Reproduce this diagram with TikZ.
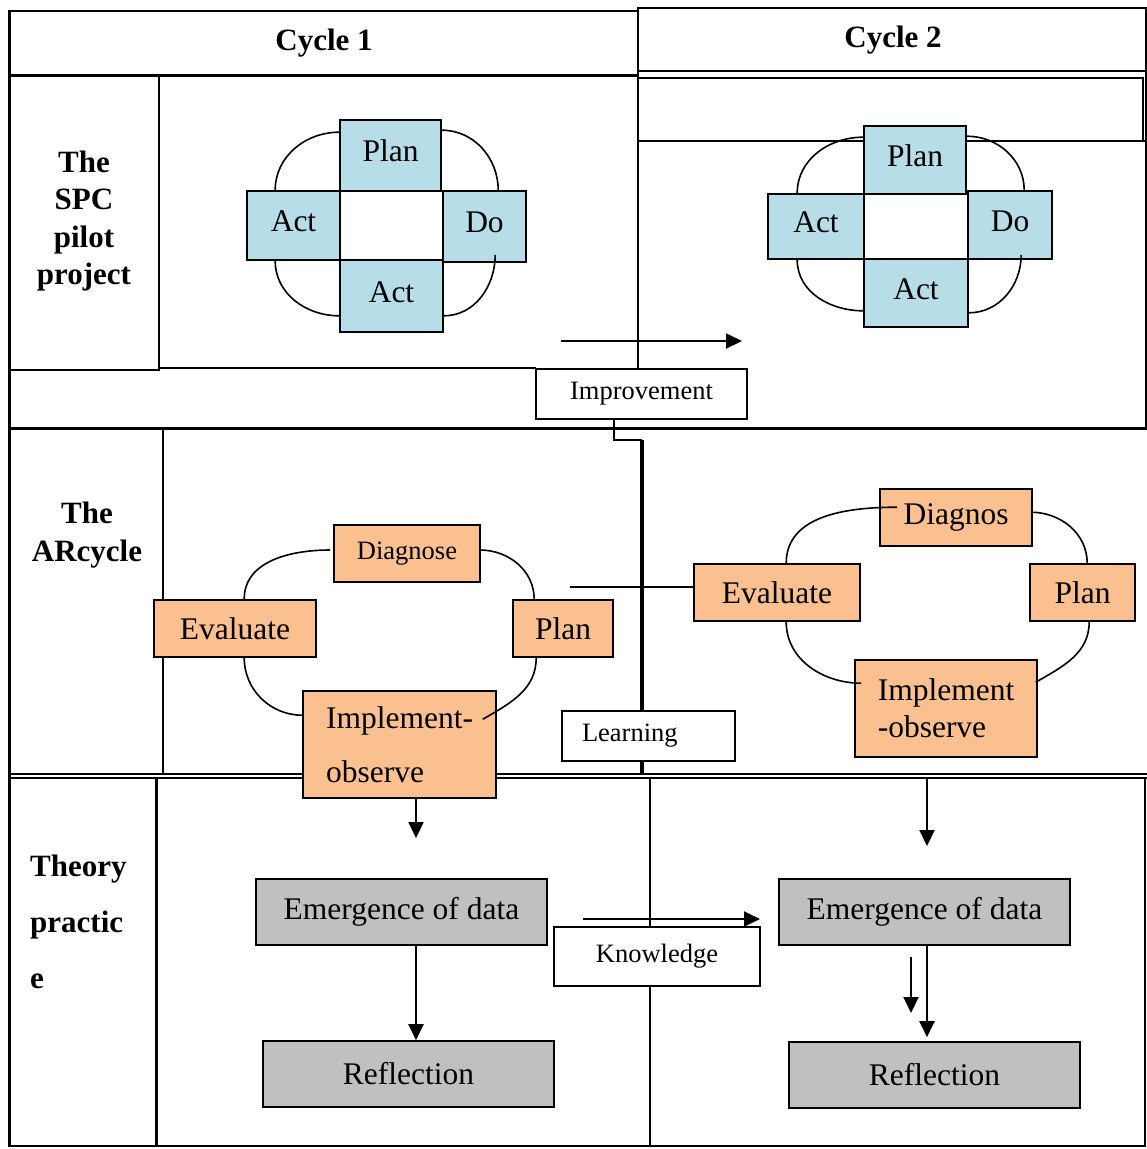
\documentclass[tikz,border=0pt]{standalone}
\usepackage{fontspec}
\setmainfont{Liberation Serif}
\usetikzlibrary{arrows.meta}
\definecolor{pdcablue}{HTML}{B7DDE8}
\definecolor{arorange}{HTML}{FAC090}
\definecolor{grayfill}{HTML}{C0C0C0}
\begin{document}
\begin{tikzpicture}[x=1pt,y=-1pt,
  box/.style={draw, line width=1.6pt, inner sep=0pt, font=\fontsize{31.5}{36}\selectfont},
  pdca/.style={box, fill=pdcablue, text height=22pt, text depth=10pt},
  arbox/.style={box, fill=arorange},
  graybox/.style={box, fill=grayfill, minimum width=291pt, minimum height=66pt},
  tag/.style={draw, line width=1.6pt, fill=white, inner sep=0pt, font=\fontsize{26.5}{30}\selectfont},
  gridline/.style={line width=2pt},
  heavygrid/.style={line width=3pt},
  cyc/.style={line width=1.6pt},
  arr/.style={line width=2pt, -{Triangle[length=16pt,width=15pt]}},
  head/.style={font=\bfseries\fontsize{31}{37.5}\selectfont, inner sep=0pt},
]
\useasboundingbox (0,0) rectangle (1147,1149);
\fill[white] (0,0) rectangle (1147,1149);

% ---------- table ----------
\draw[gridline] (9,11) rectangle (638,75);
\draw[heavygrid] (9,75) -- (638,75);
\draw[gridline] (638,8) rectangle (1146,71);
\draw[gridline] (9,75) rectangle (159,370);
\draw[gridline] (638,71) -- (638,369);
\draw[gridline] (159,368) -- (536,368);
\draw[gridline] (638,78) rectangle (1143,141);
\draw[gridline] (638,141) -- (1146,141);
\draw[gridline] (1146,71) -- (1146,428);
\draw[heavygrid] (9,11) -- (9,1147);
\draw[heavygrid] (9,428) -- (1147,428);
\draw[gridline] (163,428) -- (163,775);
\draw[line width=1.6pt] (9,774) -- (1147,774);
\draw[line width=1.6pt] (9,778) -- (1147,778);
\draw[heavygrid] (156,778) -- (156,1147);
\draw[gridline] (650,778) -- (650,1147);
\draw[gridline] (1145,778) -- (1145,1147);
\draw[gridline] (9,1146) -- (1145,1146);

% ---------- headers ----------
\node[head] (c1) at (324,43) {Cycle 1};
\node[head] (c2) at (893,40) {Cycle 2};
\node[head, align=center] (spc) at (84,221) {The\\SPC\\pilot\\project};
\node[head, align=center] (arc) at (87,535) {The\\ARcycle};
\node[head, align=left, anchor=west, font=\bfseries\fontsize{31}{56}\selectfont] (tp) at (30,922) {Theory\\practic\\e};

% ---------- improvement arrow ----------
\coordinate (i1) at (561,341);
\coordinate (i2) at (742,341);
\draw[arr] (i1) -- (i2);

% ---------- PDCA cycle 1 ----------
\node[pdca, minimum width=101pt, minimum height=71pt] (plan1) at (390.5,155.5) {Plan};
\node[pdca, minimum width=93pt, minimum height=69pt] (actl1) at (293.5,225.5) {Act};
\node[pdca, minimum width=83pt, minimum height=71pt] (do1) at (484.5,226.5) {Do};
\node[pdca, minimum width=103pt, minimum height=72pt] (actb1) at (391.5,296) {Act};
\draw[cyc] ([yshift=-13pt]plan1.north west) to[out=180,in=90] ([xshift=29pt]actl1.north west);
\draw[cyc] ([yshift=-11pt]plan1.north east) to[out=0,in=90] ([xshift=56pt]do1.north west);
\draw[cyc] ([xshift=29pt]actl1.south west) to[out=-90,in=180] ([yshift=17pt]actb1.south west);
\draw[cyc] ([xshift=53pt,yshift=8pt]do1.south west) to[out=-90,in=0] ([yshift=17pt]actb1.south east);

% ---------- PDCA cycle 2 ----------
\node[pdca, minimum width=102pt, minimum height=68pt] (plan2) at (915,160) {Plan};
\node[pdca, minimum width=96pt, minimum height=65pt] (actl2) at (816,226.5) {Act};
\node[pdca, minimum width=84pt, minimum height=68pt] (do2) at (1010,225) {Do};
\node[pdca, minimum width=104pt, minimum height=68pt] (actb2) at (916,293) {Act};
\draw[cyc] ([yshift=-12pt]plan2.north west) to[out=180,in=90] ([xshift=30pt]actl2.north west);
\draw[cyc] ([yshift=-11pt]plan2.north east) to[out=0,in=90] ([xshift=57pt]do2.north west);
\draw[cyc] ([xshift=30pt]actl2.south west) to[out=-90,in=180] ([yshift=17pt]actb2.south west);
\draw[cyc] ([xshift=54pt,yshift=5pt]do2.south west) to[out=-90,in=0] ([yshift=15pt]actb2.south east);

% ---------- tags ----------
\node[tag, minimum width=211pt, minimum height=50pt] (impr) at (641.5,394) {Improvement};
\node[tag, minimum width=173pt, minimum height=50pt, text width=133pt, align=left] (learn) at (648.5,736) {Learning};
\node[tag, minimum width=206pt, minimum height=59pt] (know) at (657,956.5) {Knowledge};
\coordinate (bend) at (642,440);
\draw[gridline] ([xshift=-27.5pt]impr.south) |- (bend);
\draw[line width=3.5pt] (bend) -- (bend |- learn.north);
\draw[line width=3.5pt] (learn.south -| bend) -- (642,775);

% ---------- AR cycle 1 ----------
\node[arbox, minimum width=146pt, minimum height=57pt, font=\fontsize{26.5}{30}\selectfont] (diag1) at (407,553.5) {Diagnose};
\node[arbox, minimum width=162pt, minimum height=57pt] (eval1) at (235,628.5) {Evaluate};
\node[arbox, minimum width=100pt, minimum height=57pt] (plan3) at (563,628.5) {Plan};
\node[arbox, minimum width=193pt, minimum height=107pt, align=left, font=\fontsize{31.5}{54}\selectfont] (impl1) at (399.5,744.5) {Implement-\\observe};
\draw[cyc] ([xshift=91pt]eval1.north west) to[out=90,in=180] ([xshift=-3pt,yshift=3.5pt]diag1.west);
\draw[cyc] ([xshift=-1pt,yshift=3.5pt]diag1.east) to[out=0,in=90] ([xshift=22pt]plan3.north west);
\draw[cyc] ([xshift=24pt]plan3.south west) to[out=-90,in=30] ([xshift=-14pt,yshift=-29pt]impl1.north east);
\draw[cyc] ([xshift=91pt]eval1.south west) to[out=-90,in=180] ([yshift=-25pt]impl1.north west);

% ---------- AR cycle 2 ----------
\node[arbox, minimum width=152pt, minimum height=57pt] (diag2) at (956,517.5) {Diagnos};
\node[arbox, minimum width=166pt, minimum height=57pt] (eval2) at (777,592.5) {Evaluate};
\node[arbox, minimum width=105pt, minimum height=57pt] (plan4) at (1082.5,592.5) {Plan};
\node[arbox, minimum width=182pt, minimum height=97pt, align=left, font=\fontsize{31.5}{37}\selectfont] (impl2) at (946,708.5) {Implement\\-observe};
\draw[cyc] ([xshift=93pt]eval2.north west) to[out=90,in=180] ([xshift=18pt,yshift=-19pt]diag2.north west);
\draw[cyc] ([xshift=-2pt,yshift=-24pt]diag2.north east) to[out=0,in=90] ([xshift=58pt]plan4.north west);
\draw[cyc] ([xshift=60pt]plan4.south west) to[out=-90,in=30] ([xshift=-2pt,yshift=-23pt]impl2.north east);
\draw[cyc] ([xshift=93pt]eval2.south west) to[out=-90,in=180] ([xshift=7pt,yshift=-24pt]impl2.north west);

\coordinate (lstart) at (570,587);
\draw[gridline] (lstart) -- (lstart -| eval2.west);

% ---------- theory / practice ----------
\node[graybox] (emerg1) at (401.5,912) {Emergence of data};
\node[graybox] (refl1) at (408.5,1074) {Reflection};
\node[graybox] (emerg2) at (924.5,912) {Emergence of data};
\node[graybox] (refl2) at (934.5,1075) {Reflection};

\coordinate (a1) at (416,838);
\draw[arr] (impl1.south -| a1) -- (a1);
\draw[arr] (emerg1.south -| a1) -- (refl1.north -| a1);
\coordinate (a2top) at (927,778);
\coordinate (a2) at (927,846);
\draw[arr] (a2top) -- (a2);
\draw[arr, shorten >=4pt] (emerg2.south -| a2) -- (refl2.north -| a2);
\coordinate (s1) at (911,957);
\coordinate (s2) at (911,1013);
\draw[arr] (s1) -- (s2);
\coordinate (k1) at (583,919);
\coordinate (k2) at (760,919);
\draw[arr] (k1) -- (k2);
\end{tikzpicture}
\end{document}
